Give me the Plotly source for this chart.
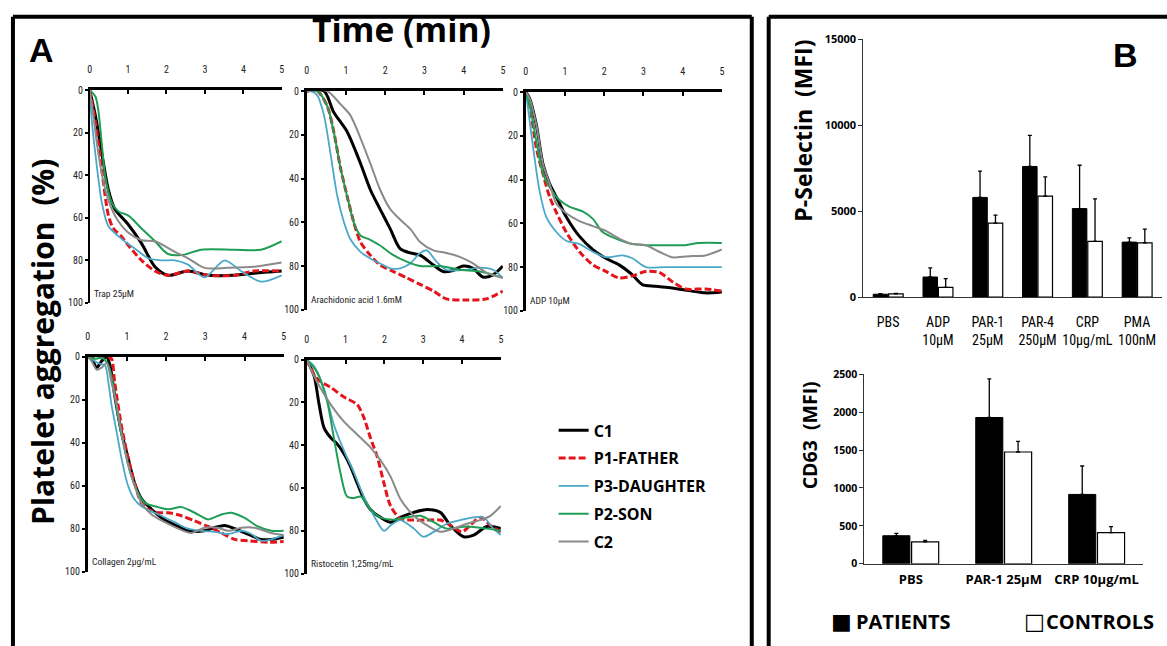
import plotly.graph_objects as go

W, H = 1167, 646

# ---------------- Panel A data (time in min, aggregation in %) ----------------
SERIES = ["C1", "P1-FATHER", "P3-DAUGHTER", "P2-SON", "C2"]
AGONISTS = ["Trap 25µM", "Arachidonic acid 1.6mM", "ADP 10µM",
            "Collagen 2µg/mL", "Ristocetin 1,25mg/mL"]
TIME_TICKS = [0, 1, 2, 3, 4, 5]
AGG_TICKS = [0, 20, 40, 60, 80, 100]

# Trap 25µM
trap_c1_t = [0, .15, .32, .49, .66, 1.0, 1.35, 1.7, 2.04, 2.56, 3.08, 3.77, 4.28, 5]
trap_c1 = [0, 12, 30, 47, 56, 63, 72, 83, 87, 85, 87, 87, 86, 85]
trap_p1_t = [0, .15, .32, .49, .62, .84, 1.01, 1.35, 1.7, 2.04, 2.56, 3.08, 3.77, 4.28, 5]
trap_p1 = [0, 15, 38, 59, 65, 69, 73, 80, 85, 87, 85, 87, 87, 85, 85]
trap_p3_t = [0, .06, .15, .32, .49, .84, 1.18, 1.53, 1.87, 2.22, 2.56, 2.99, 3.51, 3.94, 4.46, 5]
trap_p3 = [0, 15, 30, 53, 64, 70, 74.5, 79, 80, 80, 82, 88, 80, 85, 90, 87]
trap_p2_t = [0, .15, .23, .32, .41, .58, .75, 1.01, 1.35, 1.7, 2.04, 2.39, 2.91, 3.77, 4.46, 5]
trap_p2 = [0, 3, 10, 26, 41, 53, 57, 59, 65, 71, 77, 77.5, 75, 75, 75, 71]
trap_c2_t = [0, .06, .23, .41, .66, 1.01, 1.35, 1.7, 2.22, 2.56, 2.99, 3.59, 4.28, 5]
trap_c2 = [0, 7, 30, 47, 59, 67, 70.5, 71, 76, 79, 83.5, 83.5, 83, 81]

# Arachidonic acid 1.6mM
aa_c1_t = [0, .44, .69, 1.03, 1.37, 1.62, 1.87, 2.13, 2.38, 2.64, 2.89, 3.23, 3.48, 3.73, 3.99, 4.24, 4.49, 4.75, 5]
aa_c1 = [0, 0, 9.7, 18.6, 33, 45, 54, 63, 72, 74, 75, 79.5, 82.5, 82, 80, 81, 85, 84, 80]
aa_p1_t = [0, .27, .52, .69, .86, 1.03, 1.2, 1.37, 1.62, 1.87, 2.21, 2.55, 2.89, 3.23, 3.56, 4.07, 4.58, 5]
aa_p1 = [0, 0, 6.7, 18.6, 35, 48, 60, 69, 75, 79.5, 82.5, 85.4, 88.4, 91.4, 95, 95.5, 95, 91.4]
aa_p3_t = [0, .1, .27, .44, .61, .78, .95, 1.11, 1.37, 1.62, 1.87, 2.13, 2.38, 2.64, 2.89, 3.06, 3.31, 3.56, 4.07, 4.41, 4.75, 5]
aa_p3 = [0, 0, 2, 11, 29, 48, 60, 67.6, 73.5, 76.5, 78.8, 81, 81, 78.8, 74, 72.8, 78, 81.7, 81.7, 80.7, 81.7, 85.4]
aa_p2_t = [0, .27, .52, .69, .86, 1.03, 1.2, 1.37, 1.62, 1.87, 2.21, 2.55, 2.89, 3.4, 3.9, 4.41, 5]
aa_p2 = [0, 0, 6.7, 18.6, 35, 48, 60, 66, 68, 70.6, 75, 78, 80, 80, 81.7, 82.5, 85.4]
aa_c2_t = [0, .52, .86, 1.11, 1.37, 1.62, 1.87, 2.13, 2.38, 2.64, 2.89, 3.23, 3.56, 3.9, 4.24, 4.58, 5]
aa_c2 = [0, 0, 6, 11, 21.5, 33, 45, 54, 58.7, 63, 69, 72.8, 74, 75.8, 78.8, 83, 85.4]

# ADP 10µM
adp_c1_t = [0, .1, .27, .44, .61, .78, 1.03, 1.37, 1.71, 2.04, 2.38, 2.72, 2.97, 3.31, 3.73, 4.24, 4.58, 5]
adp_c1 = [0, 3, 15, 33, 42, 48, 57, 66, 72, 76, 79, 83.6, 88, 88.8, 89.6, 91, 91.8, 91.4]
adp_p1_t = [0, .1, .27, .44, .61, .78, 1.03, 1.37, 1.71, 2.04, 2.38, 2.72, 3.06, 3.4, 3.73, 4.07, 4.58, 5]
adp_p1 = [0, 6, 25.6, 37.5, 48, 55, 64, 73, 79, 82, 85, 84, 82, 82.4, 86.6, 90, 90, 91]
adp_p3_t = [0, .06, .19, .35, .52, .78, 1.03, 1.37, 1.71, 2.04, 2.47, 2.72, 3.06, 3.56, 5]
adp_p3 = [0, 7.7, 25.6, 45, 57, 64, 68, 69.5, 73, 75.5, 74.7, 76, 80, 80, 80]
adp_p2_t = [0, .1, .27, .44, .61, .86, 1.11, 1.45, 1.71, 1.96, 2.3, 2.72, 3.06, 3.56, 4.07, 4.41, 5]
adp_p2 = [0, 6, 22.6, 37.5, 43.5, 49.4, 52.4, 54.6, 58, 64, 67, 69.5, 70, 70, 70, 69, 69]
adp_c2_t = [0, .1, .27, .44, .61, .78, 1.03, 1.37, 1.71, 2.04, 2.38, 2.72, 3.06, 3.4, 3.73, 4.24, 4.58, 5]
adp_c2 = [0, 3, 15, 33, 42, 51, 55.4, 59, 61.3, 63.5, 67, 69.5, 70, 73, 75.5, 75, 74.7, 72]

# Collagen 2µg/mL
col_c1_t = [0, .1, .23, .36, .48, .57, .69, .86, 1.03, 1.2, 1.37, 1.63, 1.97, 2.31, 2.56, 2.98, 3.24, 3.49, 3.75, 4.08, 4.42, 4.68, 5]
col_c1 = [0, 1, 5, 2, 0, 4, 18, 35, 47, 59, 66, 71, 76, 79, 81, 81, 79.5, 78.5, 80, 82.5, 85, 85, 84]
col_p1_t = [0, .53, .61, .69, .86, 1.03, 1.2, 1.37, 1.54, 1.8, 2.05, 2.39, 2.73, 3.07, 3.41, 3.75, 4.08, 4.59, 5]
col_p1 = [0, 0, 1, 12, 32, 47, 59, 68, 71, 72.6, 72.6, 74, 76.4, 79, 82, 85, 85.6, 86.3, 86]
col_p3_t = [0, .1, .27, .44, .53, .61, .74, .86, 1.03, 1.2, 1.37, 1.63, 1.88, 2.22, 2.56, 2.9, 3.24, 3.58, 3.92, 4.17, 4.42, 4.68, 5]
col_p3 = [0, 1, 3, 4, 12, 22.5, 35, 47, 60, 66.6, 69.6, 72, 74, 77, 80, 81, 81.5, 82.5, 81, 82.5, 85.6, 85, 83]
col_p2_t = [0, .19, .36, .53, .65, .78, .95, 1.12, 1.29, 1.46, 1.71, 2.05, 2.39, 2.73, 3.07, 3.41, 3.66, 4.0, 4.34, 4.68, 5]
col_p2 = [0, 1, 0.5, 4, 13, 28.6, 43.8, 56, 63.5, 68, 69.6, 71, 70, 72.6, 75.7, 73.4, 72.6, 75, 79, 81, 81]
col_c2_t = [0, .1, .23, .36, .48, .61, .74, .86, 1.03, 1.2, 1.37, 1.63, 1.97, 2.31, 2.64, 2.98, 3.32, 3.58, 3.92, 4.25, 4.68, 5]
col_c2 = [0, 2, 6, 5, 3, 12, 22.5, 35, 50, 60, 68, 73.4, 77, 80, 82, 79.6, 79.6, 81, 79.6, 79.6, 82, 83]

# Ristocetin 1,25mg/mL
ris_c1_t = [0, .19, .32, .45, .62, .79, .96, 1.13, 1.3, 1.47, 1.64, 1.9, 2.16, 2.41, 2.76, 3.1, 3.44, 3.7, 4.04, 4.3, 4.64, 5]
ris_c1 = [0, 7.6, 21, 32, 36.5, 39.5, 44, 50, 57.8, 65, 70, 73.7, 76, 73.7, 71.4, 70, 71.4, 77.5, 82.8, 82, 78, 79]
ris_p1_t = [0, .27, .62, .96, 1.3, 1.47, 1.64, 1.82, 1.99, 2.16, 2.42, 2.76, 3.1, 3.44, 3.7, 4.0, 4.21, 4.47, 4.73, 5]
ris_p1 = [0, 9, 13, 17.5, 21, 27, 36.5, 45.6, 57.8, 68.4, 74.5, 75, 75, 75, 77.5, 80.5, 77.5, 73.7, 77.5, 80.5]
ris_p3_t = [0, .19, .45, .7, .96, 1.22, 1.47, 1.73, 1.99, 2.16, 2.41, 2.76, 3.01, 3.27, 3.61, 3.96, 4.3, 4.55, 4.81, 5]
ris_p3 = [0, 3, 13.7, 30.4, 42.5, 53, 64, 73, 80, 77.5, 75, 79, 82.8, 80.5, 76.7, 75, 73.7, 73.7, 79, 82]
ris_p2_t = [0, .27, .53, .7, .87, 1.04, 1.22, 1.39, 1.64, 1.9, 2.24, 2.59, 2.93, 3.27, 3.61, 4.13, 4.64, 5]
ris_p2 = [0, 6, 19.8, 36.5, 53, 64, 64.7, 64, 70, 73.7, 74.8, 73.7, 73, 76, 79, 78, 79, 80]
ris_c2_t = [0, .27, .62, .96, 1.3, 1.64, 1.9, 2.16, 2.41, 2.76, 3.1, 3.44, 3.78, 4.13, 4.47, 4.73, 5]
ris_c2 = [0, 10.6, 21, 29, 35, 41, 47, 54.7, 65, 73, 77.5, 80.5, 79, 76.7, 75, 73, 68.4]

# ---------------- Panel B data ----------------
PSEL_CATS = ["PBS", "ADP<br>10µM", "PAR-1<br>25µM", "PAR-4<br>250µM", "CRP<br>10µg/mL", "PMA<br>100nM"]
PSEL_PATIENTS = [170, 1170, 5800, 7600, 5150, 3200]
PSEL_PATIENTS_ERR = [30, 530, 1530, 1810, 2520, 250]
PSEL_CONTROLS = [190, 570, 4300, 5870, 3240, 3160]
PSEL_CONTROLS_ERR = [20, 510, 470, 1130, 2480, 800]
PSEL_TICKS = [0, 5000, 10000, 15000]

CD63_CATS = ["PBS", "PAR-1 25µM", "CRP 10µg/mL"]
CD63_PATIENTS = [370, 1930, 915]
CD63_PATIENTS_ERR = [30, 510, 375]
CD63_CONTROLS = [290, 1475, 410]
CD63_CONTROLS_ERR = [20, 140, 80]
CD63_TICKS = [0, 500, 1000, 1500, 2000, 2500]

# ---------------- styles / layout geometry ----------------
STYLE = {
    "C1": dict(color="#000000", width=3, dash="solid"),
    "P1-FATHER": dict(color="#e3141b", width=3, dash="7px,3px"),
    "P3-DAUGHTER": dict(color="#4aa8c8", width=1.8, dash="solid"),
    "P2-SON": dict(color="#1e9e55", width=2, dash="solid"),
    "C2": dict(color="#8a8a8a", width=2, dash="solid"),
}

PANELS = [
    (AGONISTS[0], [(trap_c1_t, trap_c1), (trap_p1_t, trap_p1), (trap_p3_t, trap_p3), (trap_p2_t, trap_p2), (trap_c2_t, trap_c2)], (88, 281, 84, 302)),
    (AGONISTS[1], [(aa_c1_t, aa_c1), (aa_p1_t, aa_p1), (aa_p3_t, aa_p3), (aa_p2_t, aa_p2), (aa_c2_t, aa_c2)], (306, 503, 85, 309)),
    (AGONISTS[2], [(adp_c1_t, adp_c1), (adp_p1_t, adp_p1), (adp_p3_t, adp_p3), (adp_p2_t, adp_p2), (adp_c2_t, adp_c2)], (526, 723, 86, 310)),
    (AGONISTS[3], [(col_c1_t, col_c1), (col_p1_t, col_p1), (col_p3_t, col_p3), (col_p2_t, col_p2), (col_c2_t, col_c2)], (86, 283, 357, 577)),
    (AGONISTS[4], [(ris_c1_t, ris_c1), (ris_p1_t, ris_p1), (ris_p3_t, ris_p3), (ris_p2_t, ris_p2), (ris_c2_t, ris_c2)], (306, 501, 360, 579)),
]


def dx(px):
    return px / W


def dy(py):
    return 1 - py / H


NARROW = "Liberation Sans Narrow, Roboto Condensed, Arial Narrow, Roboto, sans-serif"
BOLD = "Open Sans, Noto Sans, sans-serif"

fig = go.Figure()
layout = dict(
    width=W, height=H, margin=dict(l=0, r=0, t=0, b=0),
    paper_bgcolor="white", plot_bgcolor="white",
    barmode="group", bargap=0.38, bargroupgap=0.06,
    showlegend=True,
    legend=dict(x=dx(554), y=dy(415), xanchor="left", yanchor="top",
                font=dict(size=16, family=BOLD, color="black", weight="bold"),
                itemwidth=30, bgcolor="rgba(0,0,0,0)", tracegroupgap=4),
)
annotations = []

for i, (label, curves, (x0, x1, y0, y1)) in enumerate(PANELS, start=1):
    for name, (t, v) in zip(SERIES, curves):
        st = STYLE[name]
        fig.add_trace(go.Scatter(
            x=t, y=v, mode="lines", name=name, legendgroup=name,
            showlegend=(i == 1),
            line=dict(color=st["color"], width=st["width"], dash=st["dash"],
                      shape="spline", smoothing=0.8),
            xaxis=f"x{i}", yaxis=f"y{i}"))
    layout[f"xaxis{i}"] = dict(
        domain=[dx(x0), dx(x1)], anchor=f"y{i}", side="top", range=[0, 5],
        tickvals=TIME_TICKS, showline=True, linecolor="black", linewidth=3,
        ticks="inside", ticklen=4, tickwidth=1.5, tickcolor="black",
        tickfont=dict(size=10, family=NARROW, color="#222"),
        ticklabelstandoff=10, showgrid=False, zeroline=False)
    layout[f"yaxis{i}"] = dict(
        domain=[dy(y1), dy(y0)], anchor=f"x{i}", range=[100, 0],
        tickvals=AGG_TICKS, showline=True, linecolor="black",
        linewidth=1.5 if i == 1 else 2.5,
        ticks="outside", ticklen=3, tickwidth=1.5, tickcolor="black",
        tickfont=dict(size=10, family=NARROW, color="#222"),
        showgrid=False, zeroline=False)
    annotations.append(dict(
        x=0.05, y=95.5, xref=f"x{i}", yref=f"y{i}", text=label, showarrow=False,
        xanchor="left", yanchor="middle",
        font=dict(size=9.5, family=NARROW, color="#222")))

# ---------------- Panel B bars ----------------
ERRSTYLE = dict(type="data", symmetric=False, color="black", thickness=1.3, width=2)
fig.add_trace(go.Bar(x=PSEL_CATS, y=PSEL_PATIENTS, name="PATIENTS", showlegend=False,
                     marker=dict(color="black", line=dict(color="black", width=1)),
                     error_y=dict(array=PSEL_PATIENTS_ERR, arrayminus=[0] * len(PSEL_CATS), **ERRSTYLE),
                     xaxis="x6", yaxis="y6"))
fig.add_trace(go.Bar(x=PSEL_CATS, y=PSEL_CONTROLS, name="CONTROLS", showlegend=False,
                     marker=dict(color="white", line=dict(color="black", width=1.2)),
                     error_y=dict(array=PSEL_CONTROLS_ERR, arrayminus=[0] * len(PSEL_CATS), **ERRSTYLE),
                     xaxis="x6", yaxis="y6"))
fig.add_trace(go.Bar(x=CD63_CATS, y=CD63_PATIENTS, name="PATIENTS", showlegend=False,
                     marker=dict(color="black", line=dict(color="black", width=1)),
                     error_y=dict(array=CD63_PATIENTS_ERR, arrayminus=[0] * len(CD63_CATS), **ERRSTYLE),
                     xaxis="x7", yaxis="y7"))
fig.add_trace(go.Bar(x=CD63_CATS, y=CD63_CONTROLS, name="CONTROLS", showlegend=False,
                     marker=dict(color="white", line=dict(color="black", width=1.2)),
                     error_y=dict(array=CD63_CONTROLS_ERR, arrayminus=[0] * len(CD63_CATS), **ERRSTYLE),
                     xaxis="x7", yaxis="y7"))

layout["xaxis6"] = dict(domain=[dx(865), dx(1165)], anchor="y6", range=[-0.5, 5.5],
                        showline=True, linecolor="#333", linewidth=1, ticks="",
                        tickfont=dict(size=14, family=NARROW, color="black"),
                        ticklabelstandoff=12, showgrid=False, zeroline=False)
layout["yaxis6"] = dict(domain=[dy(296), dy(32)], anchor="x6", range=[0, 15000],
                        tickvals=PSEL_TICKS, tickformat="d", showline=True, linecolor="#333", linewidth=1,
                        ticks="outside", ticklen=4, tickcolor="#333",
                        tickfont=dict(size=11, family=BOLD, color="black", weight="bold"),
                        showgrid=False, zeroline=False)
layout["xaxis7"] = dict(domain=[dx(866), dx(1146)], anchor="y7", range=[-0.5, 2.5],
                        showline=True, linecolor="#333", linewidth=1, ticks="",
                        tickfont=dict(size=13, family=BOLD, color="black", weight="bold"),
                        ticklabelstandoff=4, showgrid=False, zeroline=False)
layout["yaxis7"] = dict(domain=[dy(569), dy(375)], anchor="x7", range=[0, 2500],
                        tickvals=CD63_TICKS, tickformat="d", showline=True, linecolor="#333", linewidth=1,
                        ticks="outside", ticklen=4, tickcolor="#333",
                        tickfont=dict(size=10.5, family=BOLD, color="black", weight="bold"),
                        showgrid=False, zeroline=False)


# ---------------- text ----------------
def paper_text(px, py, text, size, family=BOLD, angle=0, xanchor="center"):
    annotations.append(dict(x=dx(px), y=dy(py), xref="paper", yref="paper", text=text,
                            showarrow=False, textangle=angle, xanchor=xanchor, yanchor="middle",
                            font=dict(size=size, family=family, color="black", weight="bold")))


paper_text(40, 43, "A", 34, family="Liberation Sans, Arial, sans-serif")
paper_text(1128, 48, "B", 34, family="Liberation Sans, Arial, sans-serif")
paper_text(401, 22, "Time (min)", 33.5)
paper_text(40, 342, "Platelet aggregation  (%)", 30, angle=-90)
paper_text(805, 126, "P-Selectin  (MFI)", 23, angle=-90)
paper_text(811, 438, "CD63  (MFI)", 19.5, angle=-90)
paper_text(831, 628, "■", 22, family="DejaVu Sans, sans-serif", xanchor="left")
paper_text(856, 628, "PATIENTS", 20, xanchor="left")
paper_text(1024, 628, "□", 22, family="DejaVu Sans, sans-serif", xanchor="left")
paper_text(1046, 628, "CONTROLS", 20, xanchor="left")

layout["annotations"] = annotations

FRAME = dict(color="black", width=4)
layout["shapes"] = [
    dict(type="line", xref="paper", yref="paper", x0=dx(11), x1=dx(11), y0=dy(9), y1=dy(660), line=FRAME),
    dict(type="line", xref="paper", yref="paper", x0=dx(11), x1=dx(753), y0=dy(9), y1=dy(9), line=FRAME),
    dict(type="line", xref="paper", yref="paper", x0=dx(753), x1=dx(753), y0=dy(9), y1=dy(660), line=FRAME),
    dict(type="line", xref="paper", yref="paper", x0=dx(770), x1=dx(770), y0=dy(9), y1=dy(660), line=FRAME),
    dict(type="line", xref="paper", yref="paper", x0=dx(770), x1=dx(1175), y0=dy(9), y1=dy(9), line=FRAME),
]

fig.update_layout(**layout)
fig.write_html("out.html", config={"displayModeBar": False},
               post_script="document.body.style.margin='0';document.body.style.overflow='hidden';")
